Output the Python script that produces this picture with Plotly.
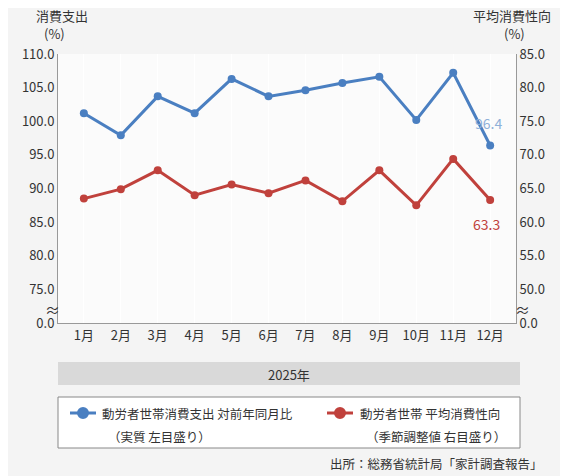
import plotly.graph_objects as go

months = ["1月","2月","3月","4月","5月","6月","7月","8月","9月","10月","11月","12月"]
spending = [101.2, 97.9, 103.7, 101.2, 106.3, 103.7, 104.6, 105.7, 106.6, 100.2, 107.2, 96.4]
propensity = [63.5, 64.9, 67.7, 64.0, 65.6, 64.3, 66.2, 63.1, 67.7, 62.5, 69.4, 63.3]
left_ticks = [70, 75, 80, 85, 90, 95, 100, 105, 110]
left_text = ["0.0", "75.0", "80.0", "85.0", "90.0", "95.0", "100.0", "105.0", "110.0"]
right_ticks = [45, 50, 55, 60, 65, 70, 75, 80, 85]
right_text = ["0.0", "50.0", "55.0", "60.0", "65.0", "70.0", "75.0", "80.0", "85.0"]

blue = "#4a7fc1"
red = "#c0413c"
font = "Noto Sans CJK JP"

T, B, L, R = 54, 323, 58, 516
W, H = 568, 476
OFF = 8
def py(p): return (B - p) / (B - T)
def px(p): return (p - L) / (R - L)

fig = go.Figure()
fig.add_trace(go.Scatter(x=months, y=spending, mode="lines+markers", line=dict(color=blue, width=3),
                         marker=dict(size=8, color=blue), showlegend=False))
fig.add_trace(go.Scatter(x=months, y=propensity, mode="lines+markers", line=dict(color=red, width=3),
                         marker=dict(size=8, color=red), yaxis="y2", showlegend=False))

fig.update_layout(
    width=W, height=H, margin=dict(l=L - OFF, r=W - R + OFF, t=T - OFF, b=H - B + OFF, autoexpand=False),
    paper_bgcolor="#f4f4f4", plot_bgcolor="rgba(255,255,255,0.6)",
    font=dict(family=font, size=13, color="#333"),
    xaxis=dict(showline=True, linecolor="#999", ticks="", tickfont=dict(size=13), range=[-0.7, 11.7]),
    yaxis=dict(range=[70, 110], tickvals=left_ticks, ticktext=left_text, showgrid=False,
               showline=True, linecolor="#999", tickfont=dict(size=13)),
    yaxis2=dict(range=[45, 85], tickvals=right_ticks, ticktext=right_text, overlaying="y", side="right",
                showgrid=False, showline=True, linecolor="#999", tickfont=dict(size=13)),
)

def A(x, y, text, **kw):
    d = dict(x=px(x), y=py(y), xref="paper", yref="paper", text=text, showarrow=False,
             xanchor="center", yanchor="middle", font=dict(size=12.5))
    d.update(kw)
    return d

ann = [
    A(62, 15, "消費支出", font=dict(size=13)),
    A(54, 34, "(%)", font=dict(size=13)),
    A(512, 15, "平均消費性向", font=dict(size=13)),
    A(514, 34, "(%)", font=dict(size=13)),
    dict(x=11, y=spending[-1], text=f"{spending[-1]}", showarrow=False, yshift=22, xshift=-2, font=dict(color="#8fb0d8", size=14)),
    dict(x=11, y=propensity[-1], yref="y2", text=f"{propensity[-1]}", showarrow=False, yshift=-24, xshift=-4, font=dict(color=red, size=14)),
    A(289, 374, "2025年", font=dict(size=13)),
    A(100, 413, "動労者世帯消費支出 対前年同月比", xanchor="left"),
    A(106, 436, "（実質 左目盛り）", xanchor="left"),
    A(358, 413, "動労者世帯 平均消費性向", xanchor="left"),
    A(364, 436, "（季節調整値 右目盛り）", xanchor="left"),
    A(545, 463, "出所：総務省統計局「家計調査報告」", xanchor="right"),
    A(52, 309, "≈", font=dict(size=15)),
    A(522, 309, "≈", font=dict(size=15)),
]
fig.update_layout(annotations=ann)

def rect(x0, x1, y0, y1, **kw):
    d = dict(type="rect", xref="paper", yref="paper", x0=px(x0), x1=px(x1), y0=py(y1), y1=py(y0))
    d.update(kw)
    return d

fig.update_layout(shapes=[
    rect(58, 520, 362, 385, fillcolor="#d9d9d9", line=dict(width=0), layer="below"),
    rect(58, 520, 397, 448, fillcolor="white", line=dict(color="#888", width=1)),
    dict(type="line", xref="paper", yref="paper", x0=px(70), x1=px(96), y0=py(413), y1=py(413), line=dict(color=blue, width=3)),
    rect(78, 88, 408, 418, type="circle", fillcolor=blue, line=dict(color=blue)),
    dict(type="line", xref="paper", yref="paper", x0=px(327), x1=px(353), y0=py(413), y1=py(413), line=dict(color=red, width=3)),
    rect(335, 345, 408, 418, type="circle", fillcolor=red, line=dict(color=red)),
])
fig.write_html("out.html")
